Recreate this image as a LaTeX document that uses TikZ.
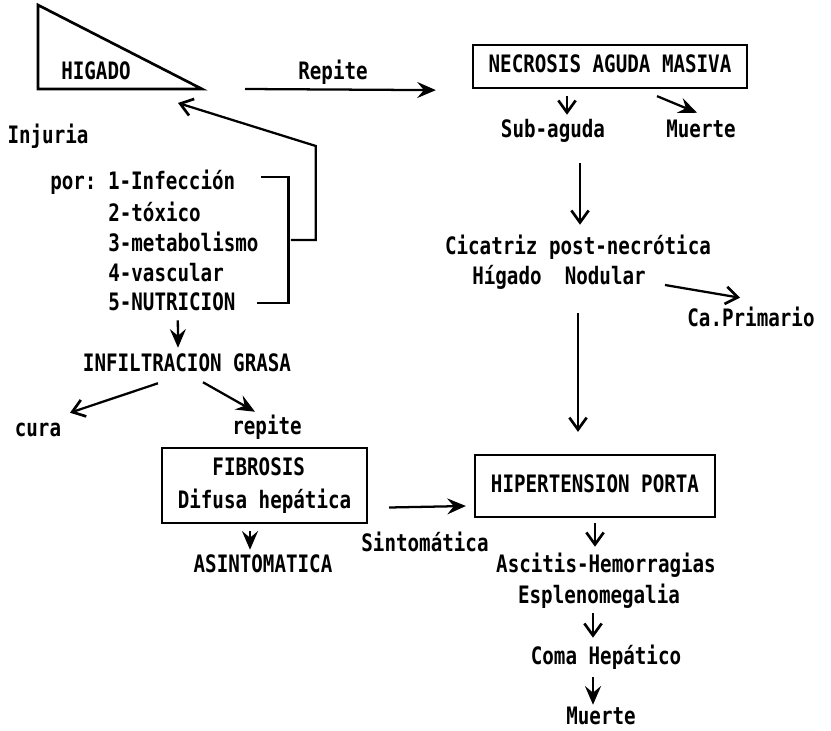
\documentclass[tikz,border=0pt]{standalone}
\usepackage{fontspec}
\setmonofont[FakeStretch=0.8]{DejaVu Sans Mono}
\usetikzlibrary{arrows.meta,calc}
\begin{document}
\begin{tikzpicture}[x=0.75pt,y=-0.75pt,
  txt/.style={inner sep=0pt, font=\ttfamily\bfseries\fontsize{18}{24.75}\selectfont, text height=13pt, text depth=3.5pt},
  boxnode/.style={draw, line width=1.7pt, inner sep=0pt},
  ln/.style={line width=1.7pt},
  arr/.style={line width=1.7pt, -{Straight Barb[length=9pt,width=13pt,line width=2pt]}},
  arrf/.style={line width=1.7pt, -{Stealth[length=14pt,width=12pt,inset=5pt]}}]
\useasboundingbox (0,0) rectangle (831,731);
% Liver triangle
\coordinate (tri1) at (38,5);
\coordinate (tri2) at (38,89);
\coordinate (tri3) at (202,89);
\draw[line width=2pt] (tri1) -- (tri2) -- (tri3) -- cycle;
\node[txt] (higado) at (96,73) {HIGADO};
% top right
\node[txt] (repite) at (333,73) {Repite};
\node[boxnode, txt, minimum width=205.5pt, minimum height=32.25pt] (necrosis) at (610,66.5) {NECROSIS AGUDA MASIVA};
\node[txt] (subaguda) at (553,131) {Sub-aguda};
\node[txt] (muerteA) at (701,131) {Muerte};
\node[txt] (cicatriz) at (578,248) {Cicatriz post-necrótica};
\node[txt] (nodular) at (559,278) {Hígado~~Nodular};
\node[txt] (capri) at (751,320) {Ca.Primario};
\node[boxnode, txt, minimum width=180pt, minimum height=46.5pt] (hiper) at (595,486) {HIPERTENSION PORTA};
\node[txt] (sintom) at (425,545) {Sintomática};
\node[txt] (ascitis) at (606,566) {Ascitis-Hemorragias};
\node[txt] (espleno) at (599,597) {Esplenomegalia};
\node[txt] (coma) at (606,658) {Coma Hepático};
\node[txt] (muerteB) at (601,718) {Muerte};
% left
\node[txt] (injuria) at (48,137) {Injuria};
\node[txt, anchor=west] (infec) at (50,183) {por: 1-Infección};
\node[txt, anchor=west] (toxico) at (108,215) {2-tóxico};
\node[txt, anchor=west] (metab) at (108,245) {3-metabolismo};
\node[txt, anchor=west] (vasc) at (108,275) {4-vascular};
\node[txt, anchor=west] (nutri) at (108,304) {5-NUTRICION};
\node[txt] (infil) at (187,365) {INFILTRACION GRASA};
\node[txt] (cura) at (38,430) {cura};
\node[txt] (repite2) at (267,428) {repite};
\node[boxnode, txt, align=center, minimum width=153.75pt, minimum height=56.25pt, text height=, text depth=] (fibrosis) at (264.5,485.5) {FIBROSIS~~\\Difusa hepática};
\node[txt] (asinto) at (263,566) {ASINTOMATICA};
% connectors
\coordinate (repS) at (245,89);
\draw[arrf] (repS) -- ($(necrosis.south west)+(-36,1)$);
\draw[arr] ($(necrosis.south)+(-43,7)$) -- ($(subaguda.north)+(14,-5)$);
\draw[arrf] ($(necrosis.south)+(47,7)$) -- ($(muerteA.north)+(-4,-7)$);
\draw[arr] ($(subaguda.south)+(27,21)$) -- ($(cicatriz.north)+(2,-12)$);
\draw[arr] ($(nodular.east)+(19,7)$) -- ($(capri.north)+(-11,-11)$);
\draw[arr] ($(nodular.south)+(19,24)$) -- ($(hiper.north)+(-17,-22)$);
\draw[arrf] ($(fibrosis.east)+(21,22)$) -- ($(hiper.west)+(-8,20)$);
\draw[arr] ($(hiper.south)+(0,5)$) -- ($(ascitis.north)+(-11,-8)$);
\draw[arr] ($(espleno.south)+(-6,5)$) -- ($(coma.north)+(-13,-9)$);
\draw[arrf] ($(coma.south)+(-13,8)$) -- ($(muerteB.north)+(-8,-2)$);
\draw[arrf] ($(nutri.south)+(6,5)$) -- ($(infil.north)+(-9,-6)$);
\draw[arr] ($(infil.south)+(-29,7)$) -- ($(cura.north)+(32,-6)$);
\draw[arrf] ($(infil.south)+(16,6)$) -- ($(repite2.north)+(-12,-5)$);
\draw[arrf] ($(fibrosis.south)+(-14.5,7)$) -- ($(asinto.north)+(-13,-5)$);
% bracket
\draw[ln] ($(infec.east)+(26,-6)$) -- ++(27,0) -- ++(0,126) -- ++(-31,0);
\draw[arr] ($(metab.east)+(32,-5)$) -- ++(25,0) -- ++(0,-94) -- ($(tri3)+(-24,14)$);
\end{tikzpicture}
\end{document}
